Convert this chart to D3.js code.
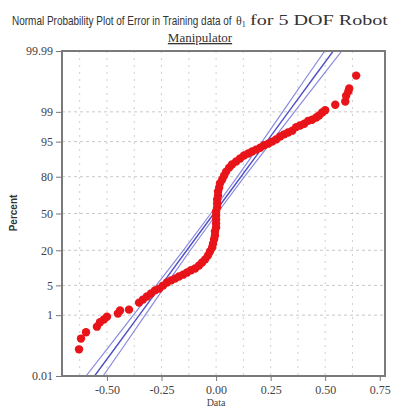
<!DOCTYPE html>
<html lang="en">
<head>
<meta charset="UTF-8">
<script src="https://d3js.org/d3.v7.min.js"></script>
<style>
  body { margin: 0; background: #fff; }
  svg { display: block; }
</style>
<title>Normal Probability Plot</title>
</head>
<body>
<div class="canvas"></div>
<script>
// error values (sorted) and their plotted percent
const errorValues = [
  -0.628, -0.619, -0.596, -0.546, -0.532, -0.514, -0.500, -0.450, -0.440, -0.399,
  -0.353, -0.335, -0.317, -0.298, -0.280, -0.261, -0.243, -0.225, -0.206, -0.188,
  -0.170, -0.151, -0.133, -0.115, -0.096, -0.078, -0.064, -0.050, -0.037, -0.028,
  -0.018, -0.014, -0.009, -0.005, -0.005, 0.000, 0.000, 0.000, 0.000, 0.000,
  0.005, 0.005, 0.005, 0.009, 0.009, 0.014, 0.018, 0.028, 0.037, 0.046,
  0.060, 0.073, 0.092, 0.110, 0.128, 0.147, 0.165, 0.183, 0.202, 0.220,
  0.239, 0.257, 0.275, 0.294, 0.312, 0.330, 0.349, 0.367, 0.385, 0.404,
  0.422, 0.440, 0.459, 0.472, 0.486, 0.500, 0.546, 0.592, 0.596, 0.606,
  0.610, 0.642
]
const errorPercents = [
  0.094, 0.21, 0.33, 0.48, 0.64, 0.76, 0.91, 1.10, 1.32, 1.39,
  2.07, 2.44, 2.87, 3.36, 3.92, 4.27, 4.95, 5.71, 6.30, 6.81,
  7.49, 8.08, 8.85, 9.68, 10.4, 11.7, 13.1, 14.7, 16.9, 19.2,
  21.8, 24.5, 27.8, 30.8, 34.1, 37.4, 40.9, 44.6, 48.2, 51.8,
  55.4, 59.0, 62.6, 65.9, 69.2, 72.2, 75.5, 78.2, 80.8, 83.1,
  85.3, 86.9, 88.3, 89.6, 90.8, 91.5, 92.2, 92.8, 93.4, 94.1,
  94.5, 95.0, 95.5, 96.1, 96.5, 96.8, 97.1, 97.6, 97.8, 98.0,
  98.3, 98.4, 98.6, 98.75, 98.96, 99.09, 99.36, 99.48, 99.65, 99.74,
  99.79, 99.92
]

// fitted line and confidence band, read at these percents
const bandPercents = [0.01, 0.1, 1, 5, 20, 50, 80, 95, 99, 99.9, 99.99]
const fitValues = [-0.557, -0.464, -0.352, -0.252, -0.134, -0.010, 0.114, 0.232, 0.332, 0.444, 0.537]
const lowerValues = [-0.596, -0.498, -0.379, -0.274, -0.150, -0.024, 0.098, 0.211, 0.305, 0.410, 0.498]
const upperValues = [-0.518, -0.430, -0.325, -0.231, -0.118, 0.004, 0.130, 0.254, 0.359, 0.478, 0.576]

const percentTicks = [0.01, 1, 5, 20, 50, 80, 95, 99, 99.99]
const percentLabels = ['0.01', '1', '5', '20', '50', '80', '95', '99', '99.99']
const dataTicks = [-0.5, -0.25, 0, 0.25, 0.5, 0.75]

// inverse normal cdf (Acklam)
function probit(p) {
  const a = [-39.69683028665376, 220.9460984245205, -275.9285104469687, 138.3577518672690, -30.66479806614716, 2.506628277459239]
  const b = [-54.47609879822406, 161.5858368580409, -155.6989798598866, 66.80131188771972, -13.28068155288572]
  const c = [-0.007784894002430293, -0.3223964580411365, -2.400758277161838, -2.549732539343734, 4.374664141464968, 2.938163982698783]
  const d = [0.007784695709041462, 0.3224671290700398, 2.445134137142996, 3.754408661907416]
  const lo = 0.02425
  let q, r
  if (p < lo) {
    q = Math.sqrt(-2 * Math.log(p))
    return (((((c[0]*q+c[1])*q+c[2])*q+c[3])*q+c[4])*q+c[5]) / ((((d[0]*q+d[1])*q+d[2])*q+d[3])*q+1)
  }
  if (p > 1 - lo) {
    q = Math.sqrt(-2 * Math.log(1 - p))
    return -(((((c[0]*q+c[1])*q+c[2])*q+c[3])*q+c[4])*q+c[5]) / ((((d[0]*q+d[1])*q+d[2])*q+d[3])*q+1)
  }
  q = p - 0.5
  r = q * q
  return (((((a[0]*r+a[1])*r+a[2])*r+a[3])*r+a[4])*r+a[5])*q / (((((b[0]*r+b[1])*r+b[2])*r+b[3])*r+b[4])*r+1)
}

const W = 395, H = 407
const [mt, mr, mb, ml] = [51, 10, 31, 62]

const svg = d3.select('.canvas').append('svg')
  .attr('width', W).attr('height', H)

const x = d3.scaleLinear().domain([-0.706, 0.774]).range([ml, W - mr])
const zs = d3.scaleLinear().domain([probit(0.0001), probit(0.9999)]).range([H - mb, mt])
const y = pct => zs(probit(pct / 100))

// grid
const grid = svg.append('g')
grid.selectAll('line.v').data(d3.range(-0.625, 0.75, 0.125)).enter().append('line')
  .attr('x1', d => x(d)).attr('x2', d => x(d))
  .attr('y1', mt).attr('y2', H - mb)
  .attr('stroke', '#d0d0d0').attr('stroke-width', 1).attr('stroke-dasharray', '2,5')
grid.selectAll('line.h').data(percentTicks.slice(1, -1)).enter().append('line')
  .attr('x1', ml).attr('x2', W - mr)
  .attr('y1', d => y(d)).attr('y2', d => y(d))
  .attr('stroke', '#c8c8c8').attr('stroke-width', 1).attr('stroke-dasharray', '3,3')

// clip for lines
svg.append('clipPath').attr('id', 'plotclip').append('rect')
  .attr('x', ml).attr('y', mt).attr('width', W - mr - ml).attr('height', H - mb - mt)

const line = vals => d3.line()
  .x((d, i) => x(vals[i]))
  .y(d => y(d))(bandPercents)

const lines = svg.append('g').attr('clip-path', 'url(#plotclip)')
lines.append('path').attr('d', line(lowerValues))
  .attr('fill', 'none').attr('stroke', '#8a8ae0').attr('stroke-width', 1.2)
lines.append('path').attr('d', line(upperValues))
  .attr('fill', 'none').attr('stroke', '#8a8ae0').attr('stroke-width', 1.2)
lines.append('path').attr('d', line(fitValues))
  .attr('fill', 'none').attr('stroke', '#5050c8').attr('stroke-width', 1.4)

// points
svg.append('g').selectAll('circle').data(errorValues).enter().append('circle')
  .attr('cx', d => x(d))
  .attr('cy', (d, i) => y(errorPercents[i]))
  .attr('r', 4.2)
  .attr('fill', '#e8141a')

// frame
svg.append('rect')
  .attr('x', ml).attr('y', mt).attr('width', W - mr - ml).attr('height', H - mb - mt)
  .attr('fill', 'none').attr('stroke', '#7a7a7a').attr('stroke-width', 2)

// axes
const xAxisG = svg.append('g').attr('transform', `translate(0,${H - mb})`)
  .call(d3.axisBottom(x).tickValues(dataTicks).tickSize(5).tickPadding(4)
    .tickFormat(d => d3.format('.2f')(d).replace('−', '-')))
const yAxisG = svg.append('g').attr('transform', `translate(${ml},0)`)
  .call(d3.axisLeft(zs).tickValues(percentTicks.map(p => probit(p / 100))).tickSize(6).tickPadding(3)
    .tickFormat((d, i) => percentLabels[i]))

;[xAxisG, yAxisG].forEach(g => {
  g.select('.domain').remove()
  g.selectAll('line').attr('stroke', '#777')
  g.selectAll('text')
    .attr('fill', '#444')
    .style('font-family', '"Liberation Serif", "Times New Roman", serif')
    .style('font-size', '12px')
})

// axis titles
svg.append('text')
  .attr('transform', 'translate(17,213) rotate(-90)')
  .attr('text-anchor', 'middle')
  .style('font-family', '"Liberation Sans", Arial, sans-serif')
  .style('font-weight', 'bold')
  .style('font-size', '10px')
  .attr('fill', '#333')
  .text('Percent')

svg.append('text')
  .attr('x', x(0)).attr('y', 406)
  .attr('text-anchor', 'middle')
  .style('font-family', '"Liberation Serif", "Times New Roman", serif')
  .style('font-size', '10px')
  .attr('fill', '#444')
  .text('Data')

// title: mixed fonts, each piece scaled horizontally to its width
const serif = '"Liberation Serif", "Times New Roman", serif'
function fitted(str, x0, y0, width, family, size) {
  const t = svg.append('text')
    .style('font-family', family)
    .style('font-size', size + 'px')
    .attr('fill', '#333')
    .text(str)
  const len = t.node().getComputedTextLength()
  t.attr('transform', `translate(${x0},${y0}) scale(${width / len},1)`)
  return t
}
fitted('Normal Probability Plot of Error in Training data of', 12, 25, 220,
  '"Liberation Sans Narrow", "Liberation Sans", Arial, sans-serif', 12.5)
const theta = svg.append('text')
  .attr('x', 236).attr('y', 25)
  .style('font-family', serif)
  .style('font-size', '12px')
  .attr('fill', '#333')
theta.append('tspan').text('θ')
theta.append('tspan').attr('dy', 2).style('font-size', '8px').text('1')
fitted('for 5 DOF Robot', 250, 25, 138, serif, 15)
svg.append('text')
  .attr('x', 200).attr('y', 42)
  .attr('text-anchor', 'middle')
  .style('font-family', serif)
  .style('font-size', '13px')
  .style('text-decoration', 'underline')
  .attr('fill', '#333')
  .text('Manipulator')
</script>
</body>
</html>
